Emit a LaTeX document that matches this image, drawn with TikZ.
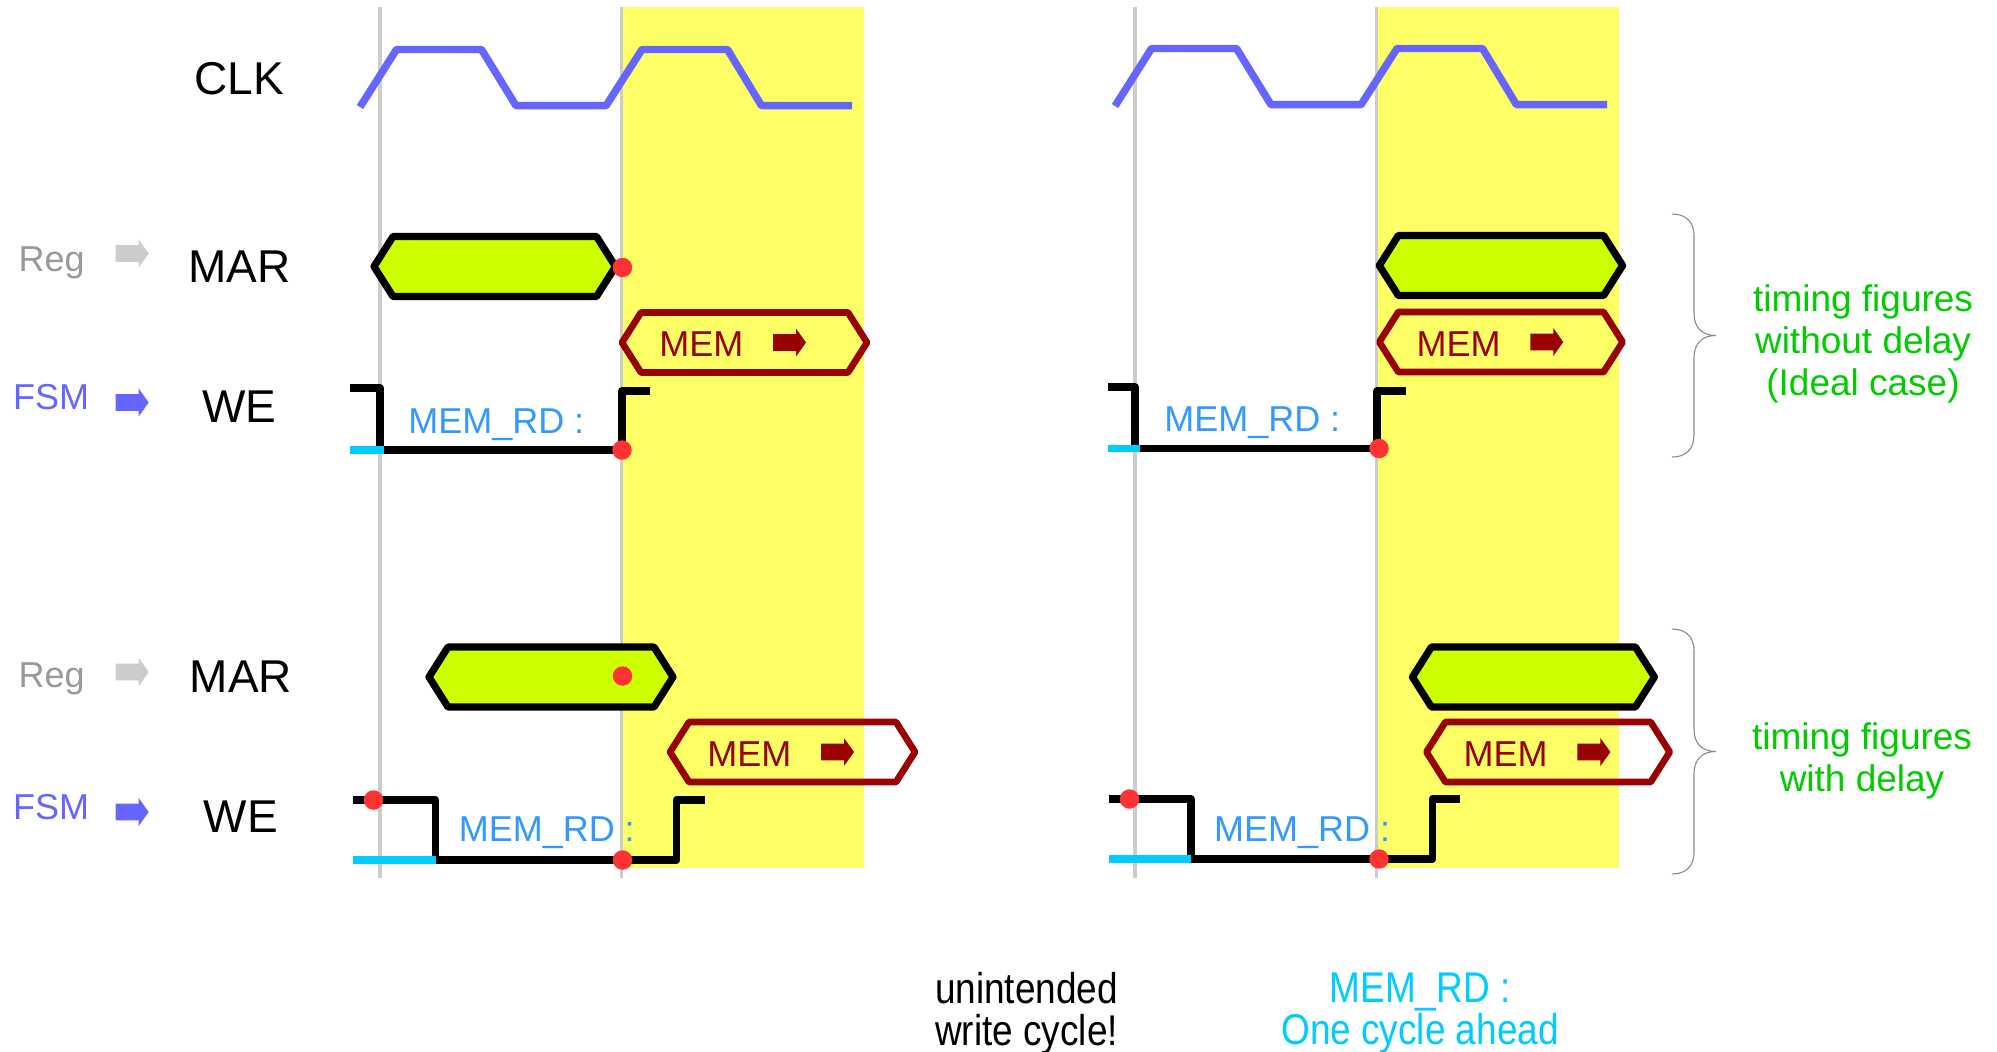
\documentclass[tikz,border=0pt]{standalone}
\usepackage{fontspec}
\setmainfont{Liberation Sans}
\newfontfamily\narrowfont[FakeStretch=0.86]{Liberation Sans}
\definecolor{clkblue}{HTML}{6666FF}
\definecolor{gridgray}{HTML}{CCCCCC}
\definecolor{hiyellow}{HTML}{FFFF66}
\definecolor{busgreen}{HTML}{CCFF00}
\definecolor{memred}{HTML}{990000}
\definecolor{dotred}{HTML}{FF3333}
\definecolor{rdcyan}{HTML}{00CCFF}
\definecolor{rdtext}{HTML}{3399FF}
\definecolor{notegreen}{HTML}{00CC00}
\definecolor{reggray}{HTML}{999999}
\definecolor{bracegray}{HTML}{888888}

% hexagonal bus segment: style, left tip x, right tip x, centre y
\newcommand{\busshape}[4]{%
  \draw[#1] (#2,#4) -- (#2+19,#4-30) -- (#3-19,#4-30) -- (#3,#4)
    -- (#3-19,#4+30) -- (#2+19,#4+30) -- cycle;}
% block arrow: colour, left x, centre y
\newcommand{\blockarrow}[3]{%
  \fill[#1] (#2,#3-8.3) -- (#2+23,#3-8.3) -- (#2+23,#3-14) -- (#2+33,#3)
    -- (#2+23,#3+14) -- (#2+23,#3+8.3) -- (#2,#3+8.3) -- cycle;}
% memory bus segment with label and arrow: name, left x, right x, centre y
\newcommand{\membus}[4]{%
  \busshape{membox}{#2}{#3}{#4}
  \node[memlabel] (#1) at (#2+37,#4+14) {MEM};
  \blockarrow{memred}{#2+151}{#4}}
% curly brace: top y, bottom y
\newcommand{\sidebrace}[2]{%
  \draw[bracestyle] (1672,#1) .. controls (1686,#1) and (1694,#1+8) .. (1694,#1+22)
    -- (1694,{(#1+#2)/2-22}) .. controls (1694,{(#1+#2)/2-8}) and (1702,{(#1+#2)/2}) .. (1716,{(#1+#2)/2})
    .. controls (1702,{(#1+#2)/2}) and (1694,{(#1+#2)/2+8}) .. (1694,{(#1+#2)/2+22})
    -- (1694,#2-22) .. controls (1694,#2-8) and (1686,#2) .. (1672,#2);}

\begin{document}
\begin{tikzpicture}[x=0.75pt,y=-0.75pt,
  clkwave/.style={draw=clkblue,line width=5.6pt,line join=round},
  gridline/.style={draw=gridgray,line width=2.6pt},
  marbox/.style={draw=black,fill=busgreen,line width=5.4pt,line join=round},
  membox/.style={draw=memred,line width=5pt,line join=round},
  memlabel/.style={anchor=base west,inner sep=0pt,text=memred,font=\fontsize{27pt}{32pt}\selectfont},
  wewave/.style={draw=black,line width=5.6pt,line join=round},
  rdlevel/.style={draw=rdcyan,line width=5.6pt},
  rdlabel/.style={anchor=base west,inner sep=0pt,text=rdtext,font=\fontsize{27pt}{32pt}\selectfont},
  siglabel/.style={anchor=base,inner sep=0pt,font=\fontsize{34.5pt}{40pt}\selectfont},
  srclabel/.style={anchor=base,inner sep=0pt,font=\fontsize{27pt}{32pt}\selectfont},
  reddot/.style={fill=dotred},
  bracestyle/.style={draw=bracegray,line width=0.8pt},
  note/.style={align=center,inner sep=0pt,text=notegreen,font=\fontsize{27.75pt}{31.5pt}\selectfont},
  footnote/.style={align=center,inner sep=0pt,font=\narrowfont\fontsize{32.25pt}{31.5pt}\selectfont}]

\useasboundingbox (0,0) rectangle (1997,1051);
\fill[white] (0,0) rectangle (1997,1051);

% highlighted clock cycle in both columns
\fill[hiyellow] (623,6.5) rectangle (863.5,868);
\fill[hiyellow] (1378,6.5) rectangle (1618.5,868);

% clock edge reference lines
\foreach \gx in {380,621.5,1135,1376.5}
  \draw[gridline] (\gx,6.5) -- (\gx,878);

% signal names
\node[siglabel] (clk) at (239.5,94) {CLK};
\node[siglabel] (marA) at (239.5,282) {MAR};
\node[siglabel] (weA) at (239.5,422.7) {WE};
\node[siglabel] (marB) at (241,692) {MAR};
\node[siglabel] (weB) at (241,832.7) {WE};
\node[srclabel,text=reggray] (regA) at (51.7,271.7) {Reg};
\node[srclabel,text=clkblue] (fsmA) at (51,409) {FSM};
\node[srclabel,text=reggray] (regB) at (51.7,687.5) {Reg};
\node[srclabel,text=clkblue] (fsmB) at (51,819) {FSM};
\blockarrow{gridgray}{115.7}{253.5}
\blockarrow{clkblue}{115.7}{402.5}
\blockarrow{gridgray}{115.7}{672}
\blockarrow{clkblue}{115.7}{812}

% clock waveforms
\draw[clkwave] (360,107) -- (396.5,49.5) -- (481.5,49.5) -- (516,105.7) -- (606,105.7)
  -- (642,49.5) -- (727.5,49.5) -- (761.5,105.7) -- (852,105.7);
\begin{scope}[xshift=566.25pt,yshift=0.75pt]
\draw[clkwave] (360,107) -- (396.5,49.5) -- (481.5,49.5) -- (516,105.7) -- (606,105.7)
  -- (642,49.5) -- (727.5,49.5) -- (761.5,105.7) -- (852,105.7);
\end{scope}

% ---- left column: ideal timing ----
\busshape{marbox}{374}{615.5}{266.5}
\membus{memA}{622}{867}{342.5}
\draw[wewave] (350,388) -- (380,388) -- (380,450) -- (622,450) -- (622,391) -- (650,391);
\draw[rdlevel] (350,450) -- (384,450);
\node[rdlabel] (rdA) at (408,433) {MEM\_RD :};
\fill[reddot] (622.5,267.5) circle[radius=7.3pt];
\fill[reddot] (622,450) circle[radius=7.3pt];

% ---- left column: timing with delay ----
\busshape{marbox}{429}{673}{677}
\membus{memB}{670}{915}{752}
\draw[wewave] (353,800) -- (435.5,800) -- (435.5,860) -- (676.5,860) -- (676.5,800) -- (704.5,800);
\draw[rdlevel] (353,860) -- (436,860);
\node[rdlabel] (rdB) at (458.5,841.5) {MEM\_RD :};
\fill[reddot] (622.5,676) circle[radius=7.3pt];
\fill[reddot] (373.5,800) circle[radius=7.3pt];
\fill[reddot] (622.5,860) circle[radius=7.3pt];

% ---- right column: ideal timing ----
\busshape{marbox}{1379.3}{1622.6}{265.5}
\membus{memC}{1379.3}{1622.6}{342}
\draw[wewave] (1108,387) -- (1135,387) -- (1135,448.5) -- (1377,448.5) -- (1377,391) -- (1406,391);
\draw[rdlevel] (1108,448.5) -- (1140,448.5);
\node[rdlabel] (rdC) at (1164,431.5) {MEM\_RD :};
\fill[reddot] (1379,448.5) circle[radius=7.3pt];

% ---- right column: timing with delay ----
\busshape{marbox}{1412.4}{1654.4}{677}
\membus{memD}{1426.4}{1669.7}{752}
\draw[wewave] (1109,799) -- (1191,799) -- (1191,859) -- (1432.5,859) -- (1432.5,799) -- (1460,799);
\draw[rdlevel] (1109,859) -- (1191,859);
\node[rdlabel] (rdD) at (1213.8,841.5) {MEM\_RD :};
\fill[reddot] (1129.5,799) circle[radius=7.3pt];
\fill[reddot] (1379,859) circle[radius=7.3pt];

% braces and side notes
\sidebrace{214}{457}
\sidebrace{629}{874}
\node[note] (ideal) at (1863,344) {timing figures\\without delay\\(Ideal case)};
\node[note] (delay) at (1862,761) {timing figures\\with delay};

% footnotes
\node[footnote] (unint) at (1026.5,1013) {unintended\\write cycle!};
\node[footnote,text=rdcyan] (ahead) at (1420,1013) {MEM\_RD :\\One cycle ahead};
\end{tikzpicture}
\end{document}
